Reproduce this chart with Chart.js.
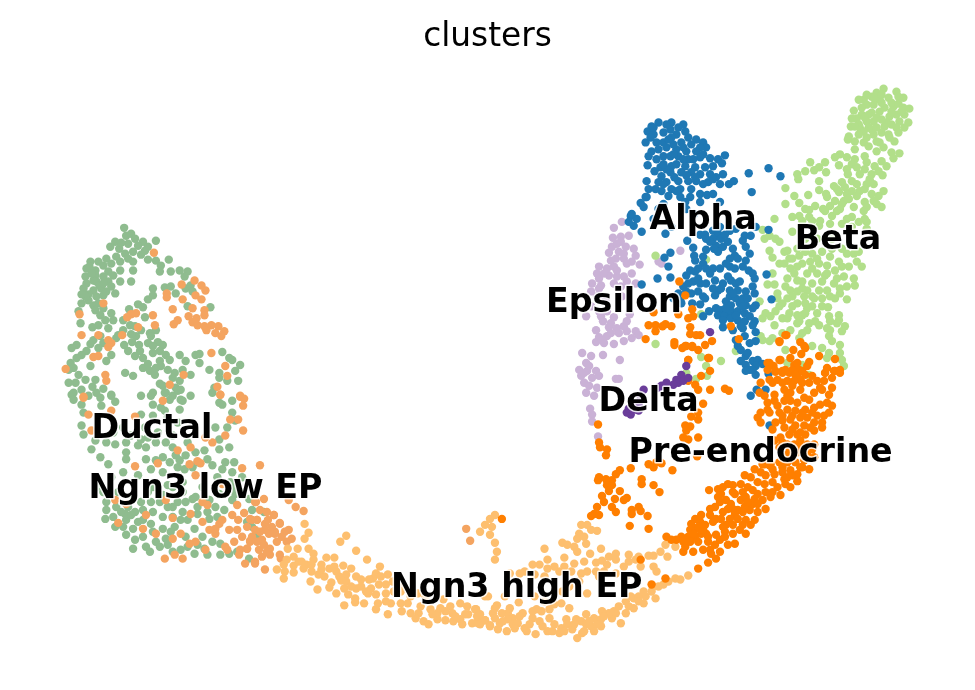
<!DOCTYPE html>
<html>
<head>
<meta charset="utf-8">
<title>clusters</title>
<script src="https://cdn.jsdelivr.net/npm/chart.js@4/dist/chart.umd.js"></script>
<style>
  html, body { margin: 0; padding: 0; background: #fff; }
  canvas { display: block; }
</style>
</head>
<body>
<canvas id="myChart" width="975" height="690"></canvas>
<script>
// points, [x, y] in the embedding's own units
const ductal = [[121,229],[123,237],[128,235],[132,240],[112,243],[107,248],[125,245],[140,243],[145,248],[153,242],[142,252],[130,253],[122,255],[113,258],[103,260],[95,263],[87,263],[83,270],[92,272],[100,267],[108,265],[117,263],[130,263],[145,261],[153,262],[166,261],[158,267],[157,273],[168,273],[177,272],[185,273],[182,278],[117,272],[130,272],[105,273],[92,277],[82,278],[100,278],[117,283],[128,283],[83,285],[93,283],[105,283],[80,290],[90,292],[98,290],[108,288],[112,295],[93,298],[100,297],[85,302],[78,305],[90,307],[150,290],[162,289],[168,288],[183,290],[188,287],[190,293],[173,295],[145,301],[150,297],[135,306],[140,309],[126,311],[185,308],[208,309],[100,310],[97,317],[108,315],[75,313],[77,325],[110,322],[95,327],[89,329],[105,330],[142,319],[127,327],[132,328],[120,332],[115,337],[147,335],[153,332],[148,338],[133,338],[97,338],[90,342],[87,346],[113,340],[121,347],[129,344],[136,347],[155,344],[160,347],[73,347],[68,350],[137,353],[150,355],[157,353],[163,357],[177,357],[193,357],[197,356],[220,354],[227,360],[83,353],[78,357],[108,357],[103,363],[140,360],[157,363],[167,362],[183,363],[197,365],[87,368],[67,365],[70,370],[238,367],[230,362],[140,370],[147,373],[158,368],[207,372],[188,377],[172,375],[217,375],[233,373],[122,375],[130,378],[75,377],[82,382],[65,385],[92,382],[177,383],[152,377],[157,386],[173,390],[178,392],[225,383],[236,383],[217,380],[89,389],[100,391],[68,397],[108,398],[138,398],[150,395],[163,395],[212,390],[210,395],
[70,395],[70,402],[78,407],[97,400],[108,397],[112,404],[98,408],[80,415],[78,428],[80,437],[92,443],[88,452],[103,445],[112,447],[123,445],[138,417],[150,407],[148,398],[162,395],[175,393],[167,402],[180,403],[162,413],[177,412],[217,405],[230,403],[230,415],[220,407],[213,430],[225,430],[233,423],[217,442],[227,450],[217,452],[138,442],[143,450],[123,455],[135,448],[153,445],[163,445],[170,450],[160,460],[173,458],[183,458],[193,455],[202,453],[97,460],[105,467],[123,462],[143,462],[153,463],[167,465],[177,463],[182,472],[210,468],[223,465],[232,465],[220,472],[230,475],[93,490],[103,505],[113,510],[103,513],[102,522],[112,530],[123,523],[122,517],[132,515],[140,513],[148,505],[157,505],[140,523],[148,527],[130,532],[123,538],[132,543],[130,552],[143,550],[153,545],[157,550],[147,555],[172,530],[168,535],[163,542],[183,540],[178,553],[165,548],[175,505],[170,510],[183,505],[190,502],[178,523],[185,523],[192,532],[207,522],[195,517],[213,510],[222,513],[202,552],[192,557],[205,558],[218,547],[218,558],[227,557],[233,497],[247,502],[250,513],[245,525],[247,562],[230,503],[170,490],[193,500],[207,503],[217,497],
[86,268],[90,282],[96,287],[103,293],[85,296],[95,305],[82,298],[116,250],[118,244],[135,247],[138,256],[125,260],[100,285],[110,277],[88,275],[78,296],[92,312],[102,322],[120,322],[128,336],[138,332],[145,345],[150,348],[125,353],[132,358],[145,366],[153,370],[165,372],[100,345],[95,350],[73,360],[65,372],[72,385],[78,392],[85,398],[93,395],[160,388],[170,380],[180,372],[170,398],[178,402],[188,398],[158,410],[150,418],[165,420],[175,425],[142,430],[155,435],[170,438],[145,440],[128,438],[120,430],[110,435],[185,445],[195,465],[205,462],[190,470],[175,470],[160,475],[148,472],[135,478],[120,475],[108,480],[100,495],[115,495],[130,500],[145,495],[160,498],[180,495],[200,490],[215,480],[228,485],[240,480],[110,520],[120,530],[118,515],[135,525],[150,515],[160,520],[165,510],[150,535],[160,532],[140,540],[170,520],[180,515],[195,510],[205,515],[215,520],[200,540],[210,545],[195,548],[185,550],[170,555],[232,490],[240,495],[150,490],[165,488],[180,485],[235,555],[255,540],[262,515],[250,530],[128,518],[138,505],[125,510]];
const ngn3Low = [[151,254],[192,282],[179,286],[199,287],[203,292],[193,297],[199,301],[164,295],[164,299],[180,301],[190,310],[202,312],[170,311],[202,317],[186,318],[150,317],[175,322],[171,326],[194,320],[190,324],[195,327],[202,328],[204,332],[209,327],[216,328],[222,333],[213,335],[219,338],[133,315],[128,316],[124,319],[152,327],[135,329],[100,305],[76,316],[78,337],[95,337],[105,342],[108,345],[105,349],[119,337],[90,359],[95,358],[209,355],[62,371],[102,377],[103,383],[181,377],[167,387],[225,378],[223,368],[218,397],[215,389],[238,398],[80,399],
[80,400],[108,413],[132,419],[88,433],[85,417],[160,403],[218,397],[238,399],[242,401],[241,408],[228,422],[236,422],[241,433],[223,438],[210,445],[203,440],[188,450],[175,453],[155,466],[132,469],[187,467],[195,464],[198,466],[193,478],[220,487],[240,471],[258,468],[287,503],[294,510],[302,514],[262,502],[254,505],[235,508],[242,516],[230,518],[220,523],[217,527],[213,532],[207,533],[200,505],[205,508],[200,525],[188,517],[170,521],[115,526],[140,532],[143,518],[153,537],[112,503],[123,507],[163,503],[227,533],[236,523],[235,533],[248,522],[255,523],[263,527],[272,518],[278,527],[287,533],[290,542],[273,537],[267,537],[263,533],[253,533],[248,544],[260,543],[268,552],[257,553],[260,560],[268,558],[253,567],[243,567],[238,553],[237,558],[245,552],[223,550],[232,545],[225,553],[180,562],[172,558],[162,562],[193,545],[187,547],[203,553],[170,542],[178,537],[213,537],[278,558],
[253,505],[258,513],[272,518],[266,523],[278,526],[255,523],[250,523],[283,535],[273,535],[279,562],[253,565],[263,573],[248,545],[245,552],[466,532],[470,544],
[265,515],[270,530],[280,540],[258,535],[250,540],[275,545],[262,548],[285,545],[255,545],[245,530],[240,540],[265,555]];
const ngn3High = [[303,527],[307,536],[303,542],[296,552],[286,552],[285,563],[292,560],[345,539],[339,545],[355,554],[366,563],[307,552],[312,557],[325,561],[333,561],[312,563],[305,568],[302,572],[310,575],[282,568],[275,573],[282,582],[292,576],[292,569],[283,575],[320,568],[317,578],[323,580],[328,572],[333,570],[342,569],[350,572],[345,578],[338,580],[309,585],[316,593],[330,586],[328,591],[340,584],[335,597],[343,592],[347,598],[355,580],[360,583],[355,592],[354,602],[354,606],[343,609],[363,607],[367,597],[372,582],[375,577],[379,570],[370,592],[378,588],[387,578],[385,588],[375,598],[385,597],[377,607],[375,613],[390,607],[387,618],[401,615],[400,607],[407,607],[410,617],[418,617],[415,622],[423,625],[428,628],[430,613],[437,617],[437,623],[445,624],[443,603],[453,625],[450,610],[452,617],[460,607],[467,610],[460,623],[468,618],[476,613],[472,627],[478,622],[485,624],[490,630],[480,628],[425,600],[417,597],[393,595],[403,590],
[495,518],[490,522],[492,530],[485,528],[480,535],[490,538],[495,546],[497,555],[495,563],[545,552],[563,546],[568,548],[575,550],[578,555],[582,528],[588,528],[592,533],[598,534],[580,537],[578,542],[585,540],[587,547],[602,552],[591,557],[565,561],[548,563],[540,568],[533,568],[548,572],[575,567],[597,566],[603,564],[617,557],[617,563],[630,558],[637,563],[608,568],[630,565],[650,559],[655,559],[662,555],[669,560],[667,548],[677,550],[642,570],[655,570],[658,575],[677,582],[682,583],[690,579],[670,585],[665,588],[660,590],[653,595],[657,602],[647,600],[640,600],[635,602],[627,605],[630,610],[640,605],[645,607],[635,612],[627,617],[622,627],[613,622],[617,617],[610,617],[603,615],[570,612],[562,607],[555,608],[537,613],[542,615],[550,613],[533,615],[550,622],[543,630],[548,635],[536,638],[525,632],[527,635],[533,622],[523,617],[513,622],[508,617],[502,617],[493,617],[485,624],[490,629],[478,627],[475,613],[477,620],[498,633],[507,635],[513,628],[508,623],[518,627],[553,635],[560,637],[562,632],[567,623],[568,628],[573,633],[578,642],[583,637],[577,623],[582,625],[587,628],[592,630],[602,630],[587,618],[595,622],[602,623],[497,609],[519,606],[505,600],[485,600],[488,600],[563,595],[588,597],[588,575],[597,575],[605,575],[582,577],[572,575],[560,575],[520,577],[510,577],[617,577],[627,580],
[320,573],[335,575],[345,585],[360,590],[368,583],[380,580],[392,585],[400,595],[410,600],[385,605],[365,595],[350,590],[300,565],[310,568],[297,565],[420,610],[432,618],[445,615],[455,620],[465,618],[480,618],[495,622],[500,627],[515,632],[530,628],[540,625],[555,628],[565,635],[575,628],[590,625],[598,628],[585,635],[595,635],[605,620],[615,615],[620,610],[632,600],[645,595],[655,590],[525,575],[535,578],[545,580],[555,570],[565,570],[585,565],[610,560],[625,570],[640,560],[535,600],[545,605],[580,585],[600,580],[570,590],[520,620],[510,612],[503,625],[495,612],[440,612],[462,628]];
const preEndocrine = [[681,283],[687,297],[655,314],[680,316],[694,311],[695,318],[690,320],[657,327],[650,327],[657,333],[664,328],[667,326],[673,328],[692,329],[692,336],[698,337],[702,337],[647,341],[676,344],[676,347],[684,350],[688,348],[694,348],[700,352],[707,347],[714,343],[690,362],[710,360],[733,328],[741,341],[782,344],[788,337],
[789,337],[782,343],[803,344],[807,348],[808,350],[796,352],[804,356],[822,358],[838,361],[793,360],[783,362],[770,365],[776,368],[812,364],[797,367],[802,372],[785,373],[792,375],[778,374],[828,375],[838,373],[843,375],[800,377],[808,377],
[690,362],[687,348],[694,349],[711,360],[712,373],[703,378],[690,383],[697,387],[700,392],[712,392],[727,391],[731,393],[705,406],[700,415],[700,422],[693,419],[687,428],[692,429],[688,433],[685,440],[690,442],[700,440],[699,459],[599,427],[600,445],[601,450],[608,452],[607,458],[632,471],[650,467],[655,470],[658,465],[663,466],[674,473],[621,473],[617,477],[600,480],[599,483],[607,482],[613,483],[608,488],[613,488],[610,494],[621,494],[643,482],[643,487],[655,488],[661,495],[603,499],[605,505],[616,502],[625,503],[628,501],[598,510],[595,517],[600,518],[592,519],[613,510],[617,515],[633,513],[633,517],[640,510],[642,514],[649,519],[631,529],[650,532],[668,540],[711,493],[502,522],[667,582],[653,588],[642,563],
[720,492],[723,497],[730,487],[735,488],[743,487],[747,478],[753,480],[757,472],[763,475],[767,467],[772,468],[750,490],[755,493],[760,497],[757,502],[737,497],[728,503],[733,507],[743,503],[748,500],[767,487],[775,495],[780,490],[783,498],[788,487],[793,490],[800,484],[787,482],[773,500],[765,503],[768,512],[760,515],[752,513],[747,510],[740,513],[737,518],[722,505],[717,510],[712,512],[723,522],[718,522],[712,518],[703,518],[697,522],[693,527],[702,525],[707,528],[698,532],[692,533],[703,537],[708,537],[697,540],[690,540],[683,540],[678,543],[673,543],[687,550],[692,545],[700,545],[705,553],[685,555],[718,538],[727,535],[735,537],[742,533],[748,537],[753,528],[757,523],[748,523],[732,522],[728,528],[717,548],[722,543],[727,540],[737,547],[730,548],[712,553],[722,555],[713,557],[700,572],[710,566],[718,562],
[772,365],[782,362],[770,372],[778,373],[785,375],[795,372],[798,377],[805,373],[803,382],[797,383],[790,383],[780,382],[763,385],[772,382],[762,395],[767,398],[777,397],[787,392],[793,395],[803,392],[812,385],[820,383],[827,383],[837,373],[828,375],[843,372],[823,390],[835,390],[832,397],[817,395],[807,400],[793,403],[787,403],[777,403],[770,405],[763,415],[760,420],[763,425],[772,415],[782,415],[790,412],[798,413],[808,412],[817,410],[823,407],[832,415],[835,408],[827,418],[820,418],[810,420],[803,420],[793,422],[785,423],[778,425],[787,430],[798,428],[807,428],[817,425],[825,430],[817,433],[808,437],[800,437],[792,437],[783,440],[775,432],[777,443],[810,447],[803,443],[817,447],[797,447],[790,447],[782,450],[790,457],[800,455],[810,457],[817,460],[807,463],[798,465],[790,465],[782,465],[773,467],[765,467],[793,473],[803,470],[812,472],[800,477],[790,480],[785,475],[777,477],
[775,385],[785,385],[795,388],[805,385],[815,378],[825,392],[830,405],[812,402],[800,405],[790,398],[780,408],[770,412],[785,418],[795,418],[805,415],[815,415],[825,425],[813,430],[803,435],[795,432],[785,445],[792,452],[803,450],[815,452],[795,460],[805,470],[785,470],[775,472],[795,478],[775,485],[768,478],[760,485],[745,495],[735,495],[725,490],[755,507],[745,515],[735,512],[725,515],[715,525],[705,533],[695,537],[685,545],[695,555],[710,545],[725,530],[735,528],[745,528],[740,522],[750,505],[768,495],[710,540],[700,530],[720,500],[730,512],[760,507],[788,372],[800,365],[810,368],[835,380],[830,370]];
const alpha = [[653,127],[660,123],[673,123],[685,125],[649,132],[655,135],[647,143],[665,133],[672,130],[678,135],[687,132],[690,138],[698,140],[705,143],[708,148],[702,148],[658,143],[665,143],[673,138],[683,143],[678,150],[688,152],[698,152],[653,152],[650,157],[658,160],[665,157],[672,157],[680,157],[690,160],[702,158],[712,159],[720,160],[727,156],[724,164],[715,167],[649,166],[662,168],[673,167],[687,167],[697,168],[707,168],[663,177],[672,173],[683,173],[693,173],[702,175],[712,175],[725,175],[718,178],[710,183],[698,182],[690,182],[680,182],[668,183],[660,183],[648,182],[650,190],[648,198],[663,192],[673,190],[682,190],[670,197],[693,190],[702,195],[709,196],[722,185],[731,185],[736,182],[751,174],[771,169],[783,177],[754,193],[642,204],[645,208],[632,217],[638,220],[643,233],[635,227],[667,235],[682,198],[687,203],[702,203],[722,203],[673,228],[758,228],[771,231],[647,198],
[702,236],[707,236],[715,232],[720,235],[715,240],[723,240],[712,243],[718,247],[725,248],[730,243],[732,232],[738,230],[747,237],[753,237],[689,242],[745,242],[748,248],[708,251],[695,249],[720,253],[696,257],[672,254],[666,259],[670,268],[737,257],[732,260],[740,260],[752,255],[748,262],[705,265],[700,270],[708,270],[697,273],[692,272],[688,277],[715,270],[722,270],[732,268],[737,270],[751,272],[755,275],[757,280],[769,276],[659,280],[672,279],[695,283],[702,285],[708,285],[717,282],[730,278],[733,282],[738,285],[643,286],[685,288],[688,293],[693,295],[700,293],[720,292],[723,290],[732,292],[740,292],[748,293],[755,288],[757,295],[717,297],[705,298],[707,300],[732,298],[738,300],[774,301],[682,302],[683,305],[694,305],[702,306],[728,303],[733,307],[742,305],[748,307],[758,307],[755,310],[718,310],[723,312],[711,313],[705,318],[720,317],[727,317],[733,313],[740,313],[747,315],[752,318],[733,320],[740,322],[757,323],[755,327],[747,323],[725,329],[735,332],[745,330],[738,342],[747,338],[758,334],[758,343],[740,348],[743,352],[748,358],[743,363],[748,367],[755,363],[760,362],[765,366],[752,372],[758,368],[748,373],[758,377],[771,376],[753,398],[759,392],[768,392],[772,428],[633,215],[630,223],
[655,128],[668,125],[680,128],[652,138],[660,150],[668,148],[675,145],[685,148],[693,145],[656,172],[668,170],[678,165],[685,160],[695,160],[705,155],[657,190],[665,185],[676,178],[688,176],[697,178],[705,185],[715,180],[692,198],[678,192],[665,205],[660,210],[655,220],[688,210],[696,215],[715,195],[708,240],[716,250],[727,236],[722,228],[735,250],[728,265],[745,268],[712,275],[725,285],[742,283],[735,295],[745,300],[728,310],[738,317],[750,300],[725,322],[743,328],[752,345],[750,355],[755,372],[745,308],[715,290],[700,280],[690,285],[680,295],[675,300],[697,262],[705,258],[665,165],[675,155],[670,140]];
const beta = [[887,89],[880,93],[875,97],[900,92],[907,98],[902,97],[867,100],[862,100],[892,98],[883,100],[870,105],[877,105],[897,107],[888,108],[883,112],[875,113],[857,111],[865,115],[907,108],[913,109],[908,115],[860,119],[855,119],[870,122],[877,122],[893,117],[900,115],[903,122],[912,123],[908,128],[890,123],[888,127],[854,127],[863,128],[872,128],[900,128],[902,133],[877,135],[885,133],[892,135],[867,132],[862,135],[852,137],[851,140],[858,142],[880,142],[898,142],[893,138],[867,143],[872,147],[883,143],[858,150],[887,148],[880,152],[895,153],[903,154],[897,159],[843,155],[838,158],[850,158],[858,160],[868,157],[870,163],[813,163],[828,163],[822,168],[817,171],[842,166],[808,172],[829,173],[800,175],[801,180],[850,170],[851,175],[885,162],[878,167],[890,167],[882,172],[868,170],[863,175],[886,176],[822,182],[873,180],[855,182],[837,187],[845,183],[848,188],[860,185],[870,185],[877,185],[788,189],[822,191],[855,192],[863,192],[887,192],[797,197],[811,196],[829,195],[830,198],[842,193],[850,195],[860,197],[875,195],[882,197],[838,202],[847,202],[868,203],[877,202],[788,205],[802,204],[818,207],[808,210],[812,211],[826,210],[833,207],[843,210],[857,208],[870,208],[885,208],[835,217],[840,212],[867,212],[795,218],[802,217],[812,218],[823,222],[855,218],[850,220],[868,220],[862,223],[777,220],[805,222],[833,225],[822,227],[870,223],
[765,231],[772,237],[767,240],[778,240],[782,243],[772,252],[787,253],[790,252],[795,233],[792,260],[775,259],[802,257],[808,253],[782,265],[787,265],[825,253],[850,255],[857,255],[862,253],[833,258],[793,270],[800,268],[813,263],[822,265],[830,267],[842,263],[860,263],[865,268],[838,272],[775,275],[770,286],[777,286],[797,275],[810,275],[820,275],[828,277],[847,278],[857,280],[858,287],[800,282],[805,283],[815,285],[825,283],[837,285],[788,288],[793,292],[800,293],[810,292],[822,292],[830,292],[843,290],[850,288],[795,298],[807,298],[817,300],[825,300],[833,298],[843,295],[850,301],[762,303],[785,305],[782,308],[800,305],[808,305],[815,308],[831,309],[778,313],[768,315],[765,320],[773,318],[792,315],[800,317],[805,317],[832,318],[842,317],[785,320],[790,320],[802,323],[818,323],[777,327],[812,325],[833,323],[842,322],[822,327],[810,332],[793,332],[848,328],[845,333],[833,332],[763,338],[772,343],[765,342],[802,340],[832,338],[835,343],[815,348],[825,350],[843,347],[843,355],[832,355],[845,362],[847,368],[788,352],[790,365],[805,367],[830,360],[812,377],
[657,257],[708,261],[703,316],[657,346],[703,359],[708,368],[723,363],[709,378],[738,353],[698,381],[688,375],
[870,95],[885,95],[895,103],[878,98],[865,108],[872,115],[880,118],[885,103],[895,112],[902,104],[862,125],[868,118],[885,120],[895,125],[875,130],[858,127],[870,138],[880,128],[905,112],[855,165],[860,168],[875,175],[840,190],[852,200],[868,190],[880,205],[845,205],[828,212],[815,222],[845,225],[855,228],[870,230],[800,250],[795,260],[815,255],[805,265],[790,280],[820,260],[835,250],[845,250],[815,270],[830,275],[840,280],[805,290],[815,298],[825,308],[838,300],[810,310],[795,308],[820,315],[808,315],[780,300],[790,300],[800,325],[830,330],[840,325],[805,335],[785,335],[775,340],[780,295],[852,268],[845,268],[820,240],[808,240],[835,240]];
const delta = [[688,368],[683,377],[678,382],[680,385],[685,383],[690,380],[675,387],[663,388],[668,385],[660,390],[645,392],[642,400],[640,407],[633,412],[628,415],[632,417],[637,412],[640,413],[630,411],[635,409],[712,334]];
const epsilon = [[623,223],[615,229],[630,237],[614,239],[622,238],[622,243],[613,248],[610,254],[627,248],[635,250],[637,257],[620,253],[617,260],[625,260],[633,263],[628,265],[641,266],[600,268],[608,270],[615,268],[598,275],[610,277],[633,275],[600,280],[625,278],[618,278],[593,285],[602,287],[615,285],[628,283],[637,285],[592,293],[598,298],[623,298],[592,308],[600,313],[587,318],[608,313],[602,318],[615,319],[631,316],[628,323],[604,323],[597,332],[610,329],[618,330],[625,328],[637,333],[640,337],[600,339],[608,338],[628,333],[597,344],[603,342],[615,346],[625,343],[633,340],[583,355],[592,358],[604,357],[621,362],[587,365],[580,372],[588,373],[597,373],[582,378],[600,378],[585,385],[617,381],[620,381],[587,395],[595,398],[598,390],[591,411],[593,417],[593,424],[599,439],[682,252],[660,263],[663,265],
[605,275],[618,272],[600,290],[607,300],[622,288],[612,325],[620,335],[605,345],[612,335],[590,368],[585,375],[593,380],[590,388],[618,245],[625,255],[612,262]];

const clusterNames = ['Ductal', 'Ngn3 low EP', 'Ngn3 high EP', 'Pre-endocrine', 'Beta', 'Alpha', 'Delta', 'Epsilon'];
const labelX = [149, 203, 517, 763, 841, 705, 650, 615];
const labelY = [432, 492, 592, 456, 242, 221, 405, 305];

function toPoints(list) {
    return list.map(function (p) { return {x: p[0], y: p[1]}; });
}

function series(name, list, color) {
    return {
        label: name,
        data: toPoints(list),
        backgroundColor: color,
        borderWidth: 0,
        pointRadius: 4.2,
        pointHoverRadius: 4.2
    };
}

// white-edged bold names on top of the points
const clusterLabels = {
    id: 'clusterLabels',
    afterDatasetsDraw(chart) {
        const ctx = chart.ctx;
        ctx.save();
        ctx.font = 'bold 33.3px "DejaVu Sans"';
        ctx.textAlign = 'center';
        ctx.textBaseline = 'middle';
        ctx.lineJoin = 'round';
        clusterNames.forEach(function (name, i) {
            const px = chart.scales.x.getPixelForValue(labelX[i]);
            const py = chart.scales.y.getPixelForValue(labelY[i]);
            ctx.lineWidth = 3;
            ctx.strokeStyle = 'rgba(255,255,255,0.85)';
            ctx.strokeText(name, px, py);
            ctx.fillStyle = '#000';
            ctx.fillText(name, px, py);
        });
        ctx.restore();
    }
};

new Chart(document.getElementById('myChart'), {
    type: 'scatter',
    data: {
        // first dataset ends up on top
        datasets: [
            series('Delta', delta, '#6a3d9a'),
            series('Pre-endocrine', preEndocrine, '#ff7f00'),
            series('Alpha', alpha, '#1f78b4'),
            series('Beta', beta, '#b2df8a'),
            series('Epsilon', epsilon, '#cab2d6'),
            series('Ngn3 high EP', ngn3High, '#fdbf6f'),
            series('Ngn3 low EP', ngn3Low, '#f4a460'),
            series('Ductal', ductal, '#8fbc8f')
        ]
    },
    options: {
        responsive: false,
        animation: false,
        layout: {padding: 0},
        plugins: {
            legend: {display: false},
            tooltip: {enabled: false},
            title: {
                display: true,
                text: 'clusters',
                color: '#000',
                font: {family: '"DejaVu Sans"', size: 32.8, weight: 'normal', lineHeight: 1.2},
                padding: {top: 18, bottom: 2.6}
            }
        },
        scales: {
            x: {type: 'linear', display: false, min: 0, max: 975},
            y: {type: 'linear', display: false, min: 60, max: 690, reverse: true}
        }
    },
    plugins: [clusterLabels]
});
</script>
</body>
</html>
